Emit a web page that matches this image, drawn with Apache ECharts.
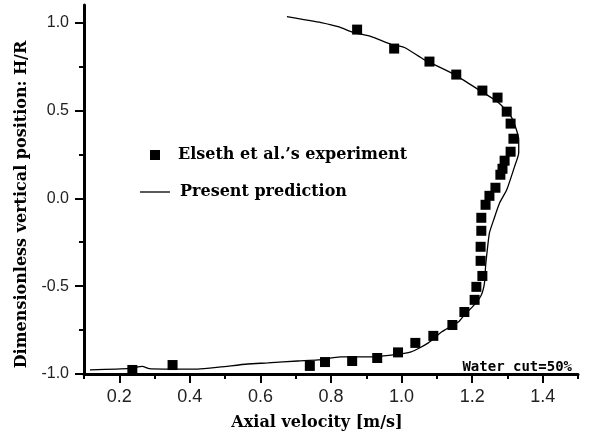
<!DOCTYPE html>
<html>
<head>
<meta charset="utf-8">
<script src="https://cdn.jsdelivr.net/npm/echarts@6/dist/echarts.min.js"></script>
<style>
  html, body { margin: 0; padding: 0; background: #fff; }
  #main { width: 591px; height: 438px; }
</style>
</head>
<body>
<div id="main"></div>
<script>
// measured points (axial velocity, H/R)
var expX = [0.874, 0.979, 1.079, 1.155, 1.229, 1.272, 1.298, 1.309, 1.317, 1.309, 1.292, 1.286, 1.280, 1.266, 1.249,
            1.238, 1.226, 1.226, 1.224, 1.224, 1.229, 1.212, 1.207, 1.178, 1.144, 1.090, 1.039, 0.990, 0.931, 0.860,
            0.783, 0.740, 0.351, 0.237];
var expY = [0.960, 0.852, 0.778, 0.704, 0.613, 0.573, 0.493, 0.425, 0.339, 0.265, 0.214, 0.168, 0.134, 0.060, 0.014,
            -0.037, -0.111, -0.185, -0.276, -0.356, -0.442, -0.504, -0.578, -0.647, -0.721, -0.783, -0.823, -0.877, -0.909, -0.926,
            -0.932, -0.954, -0.949, -0.977];

// predicted profile, traced top to bottom
var predX = [0.675, 0.723, 0.772, 0.820, 0.865, 0.914, 0.971, 1.008, 1.064, 1.150, 1.218, 1.275, 1.312, 1.332, 1.332,
             1.320, 1.298, 1.278, 1.261, 1.249, 1.243, 1.238, 1.235, 1.226, 1.206, 1.178, 1.161, 1.113, 1.076, 1.027,
             0.971, 0.905, 0.828, 0.763, 0.706, 0.621, 0.564, 0.487, 0.422, 0.325, 0.285, 0.265, 0.231, 0.117];
var predY = [1.034, 1.017, 1.000, 0.977, 0.943, 0.920, 0.875, 0.858, 0.789, 0.704, 0.618, 0.544, 0.459, 0.333, 0.259,
             0.179, 0.048, -0.026, -0.123, -0.197, -0.293, -0.390, -0.481, -0.550, -0.607, -0.664, -0.704, -0.761, -0.823, -0.874,
             -0.892, -0.903, -0.903, -0.920, -0.926, -0.937, -0.943, -0.960, -0.972, -0.972, -0.970, -0.957, -0.968, -0.977];

var xMajor = [0.2, 0.4, 0.6, 0.8, 1.0, 1.2, 1.4];
var xMinor = [0.1, 0.3, 0.5, 0.7, 0.9, 1.1, 1.3, 1.5];
var yMajor = [-1.0, -0.5, 0.0, 0.5, 1.0];
var yMinor = [-0.75, -0.25, 0.25, 0.75];

function pairs(xs, ys) {
    return xs.map(function (x, i) { return [x, ys[i]]; });
}

var myChart = echarts.init(document.getElementById('main'));

var serif = "'DejaVu Serif', 'Liberation Serif', serif";
var sans = "'Liberation Sans', Arial, sans-serif";

option = {
    backgroundColor: '#fff',
    animation: false,
    title: {
        text: 'Water cut=50%',
        right: 14,
        top: 355,
        textStyle: {
            fontFamily: "'DejaVu Sans Mono', monospace",
            fontWeight: 'bold',
            fontSize: 14,
            color: '#000'
        }
    },
    legend: [
        {
            left: 145,
            top: 142,
            itemWidth: 10,
            itemHeight: 10,
            data: [{ name: 'Elseth et al.\u2019s experiment', icon: 'rect' }],
            textStyle: { fontFamily: serif, fontWeight: 'bold', fontSize: 16, color: '#000', padding: [0, 0, 0, 13] }
        },
        {
            left: 135,
            top: 179,
            itemWidth: 30,
            itemHeight: 1.3,
            data: [{ name: 'Present prediction', icon: 'rect' }],
            textStyle: { fontFamily: serif, fontWeight: 'bold', fontSize: 16, color: '#000', padding: [0, 0, 0, 5] }
        }
    ],
    grid: {
        left: 84,
        right: 13,
        top: 5,
        bottom: 64
    },
    xAxis: [
        {
            type: 'value',
            min: 0.1,
            max: 1.5,
            interval: 0.1,
            name: 'Axial velocity [m/s]',
            nameLocation: 'middle',
            nameGap: 41,
            nameTextStyle: { fontFamily: serif, fontWeight: 'bold', fontSize: 16, color: '#000', padding: [0, 28, 0, 0] },
            axisLine: { show: true, onZero: false, lineStyle: { color: '#000', width: 3 } },
            axisTick: { show: true, customValues: xMajor, length: 9, lineStyle: { color: '#000', width: 2 } },
            axisLabel: {
                customValues: xMajor,
                margin: 14,
                fontFamily: sans,
                fontSize: 18,
                color: '#222',
                formatter: function (v) { return v.toFixed(1); }
            },
            splitLine: { show: false }
        },
        {
            type: 'value',
            min: 0.1,
            max: 1.5,
            interval: 0.1,
            position: 'bottom',
            axisLine: { show: false, onZero: false },
            axisTick: { show: true, customValues: xMinor, length: 5, lineStyle: { color: '#000', width: 2 } },
            axisLabel: { show: false },
            splitLine: { show: false }
        }
    ],
    yAxis: [
        {
            type: 'value',
            min: -1.0,
            max: 1.1,
            interval: 0.5,
            name: 'Dimensionless vertical position: H/R',
            nameLocation: 'middle',
            nameGap: 54,
            nameTextStyle: { fontFamily: serif, fontWeight: 'bold', fontSize: 16, color: '#000', padding: [0, 30, 0, 0] },
            axisLine: { show: true, onZero: false, lineStyle: { color: '#000', width: 3 } },
            axisTick: { show: true, customValues: yMajor, length: 9, lineStyle: { color: '#000', width: 2 } },
            axisLabel: {
                customValues: yMajor,
                margin: 15,
                fontFamily: sans,
                fontSize: 16,
                color: '#222',
                formatter: function (v) { return v.toFixed(1); }
            },
            splitLine: { show: false }
        },
        {
            type: 'value',
            min: -1.0,
            max: 1.1,
            interval: 0.5,
            position: 'left',
            axisLine: { show: false, onZero: false },
            axisTick: { show: true, customValues: yMinor, length: 5, lineStyle: { color: '#000', width: 2 } },
            axisLabel: { show: false },
            splitLine: { show: false }
        }
    ],
    series: [
        {
            name: 'Elseth et al.\u2019s experiment',
            type: 'scatter',
            symbol: 'rect',
            symbolSize: 10,
            itemStyle: { color: '#000', opacity: 1 },
            data: pairs(expX, expY),
            z: 3
        },
        {
            name: 'Present prediction',
            type: 'line',
            symbol: 'none',
            smooth: 0.2,
            lineStyle: { color: '#000', width: 1.3 },
            itemStyle: { color: '#000' },
            data: pairs(predX, predY),
            z: 2
        }
    ]
};

myChart.setOption(option);
</script>
</body>
</html>
